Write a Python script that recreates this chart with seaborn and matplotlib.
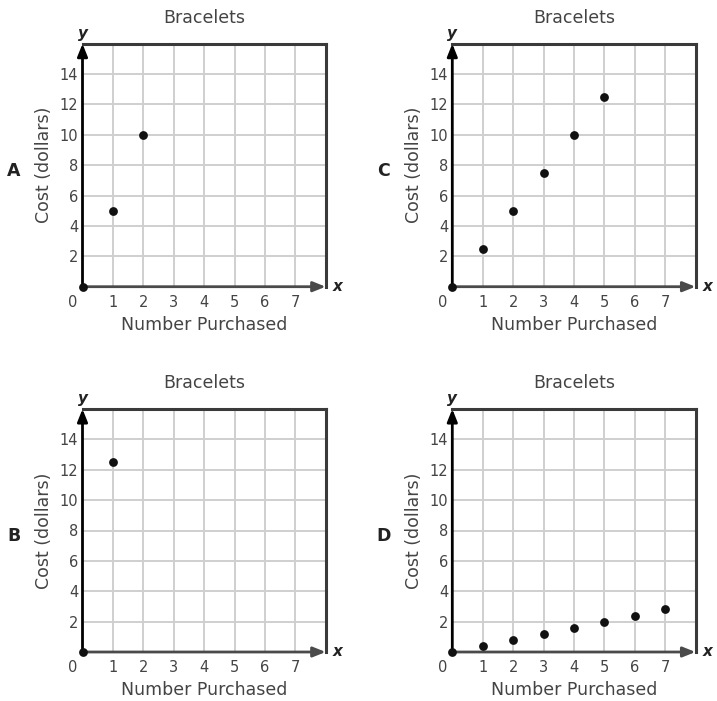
import pandas as pd
import numpy as np
import matplotlib
matplotlib.use('Agg')
import matplotlib.pyplot as plt
import seaborn as sns

sns.set_style('white')
plt.rcParams['font.family'] = ['DejaVu Sans']

# data
a_x = [0, 1, 2]
a_y = [0, 5, 10]
c_x = [0, 1, 2, 3, 4, 5]
c_y = [0, 2.5, 5, 7.5, 10, 12.5]
b_x = [0, 1]
b_y = [0, 12.5]
d_x = [0, 1, 2, 3, 4, 5, 6, 7]
d_y = [0, 0.4, 0.8, 1.2, 1.6, 2.0, 2.4, 2.8]

x_ticks = [1, 2, 3, 4, 5, 6, 7]
y_ticks = [2, 4, 6, 8, 10, 12, 14]

panels = [
    ('A', a_x, a_y, [82.5, 286.7]),
    ('C', c_x, c_y, [452.3, 286.7]),
    ('B', b_x, b_y, [82.5, 652.0]),
    ('D', d_x, d_y, [452.3, 652.0]),
]

W, H = 717, 701
text_col = '#444444'

fig = plt.figure(figsize=(W / 100, H / 100), dpi=100)

for letter, xs, ys, (ox, oy) in panels:
    ax = fig.add_axes([ox / W, (H - oy) / H, 243.2 / W, 243.0 / H])
    df = pd.DataFrame({'n': xs, 'cost': ys})

    ax.set_xlim(0, 8)
    ax.set_ylim(0, 16)
    ax.set_xticks(x_ticks)
    ax.set_yticks(y_ticks)
    ax.grid(True, color='#cfcfcf', lw=1.4, zorder=0)
    ax.set_axisbelow(True)
    ax.tick_params(length=0, labelsize=10.5, labelcolor=text_col)
    ax.tick_params(axis='x', pad=6)
    ax.tick_params(axis='y', pad=3)

    for s in ['left', 'bottom']:
        ax.spines[s].set_visible(False)
    for s in ['top', 'right']:
        ax.spines[s].set_color('#3a3a3a')
        ax.spines[s].set_linewidth(2.2)

    # axes with arrow heads
    ax.annotate('', xy=(8, 0), xytext=(0, 0),
                arrowprops=dict(arrowstyle='-|>,head_length=0.75,head_width=0.3',
                                color='#4a4a4a', lw=2, shrinkA=0, shrinkB=0,
                                mutation_scale=10), annotation_clip=False)
    ax.annotate('', xy=(0, 16), xytext=(0, 0),
                arrowprops=dict(arrowstyle='-|>,head_length=0.75,head_width=0.3',
                                color='black', lw=2, shrinkA=0, shrinkB=0,
                                mutation_scale=10), annotation_clip=False)

    sns.scatterplot(data=df, x='n', y='cost', ax=ax, color='#111111', s=40,
                    edgecolor='#111111', linewidth=0, zorder=5, clip_on=False)

    ax.annotate('0', xy=(0, 0), xytext=(-6.8, -6), textcoords='offset points',
                ha='center', va='top', fontsize=10.5, color=text_col)
    ax.annotate('x', xy=(1, 0), xycoords='axes fraction', xytext=(8.5, 0),
                textcoords='offset points', ha='center', va='center',
                fontsize=11, fontweight='bold', fontstyle='italic', color='#222222')
    ax.annotate('y', xy=(0, 1), xycoords='axes fraction', xytext=(0, 7.5),
                textcoords='offset points', ha='center', va='center',
                fontsize=11, fontweight='bold', fontstyle='italic', color='#222222')

    ax.set_title('Bracelets', fontsize=12.5, color=text_col, pad=15)
    ax.set_xlabel('Number Purchased', fontsize=12.5, color=text_col, labelpad=4)
    ax.set_ylabel('Cost (dollars)', fontsize=12.5, color=text_col, labelpad=5)

    fig.text((ox - 68.5) / W, (H - oy + 116) / H, letter, fontsize=12.5,
             fontweight='bold', color='#222222', ha='center', va='center')

fig.savefig('out.png', dpi=100)
